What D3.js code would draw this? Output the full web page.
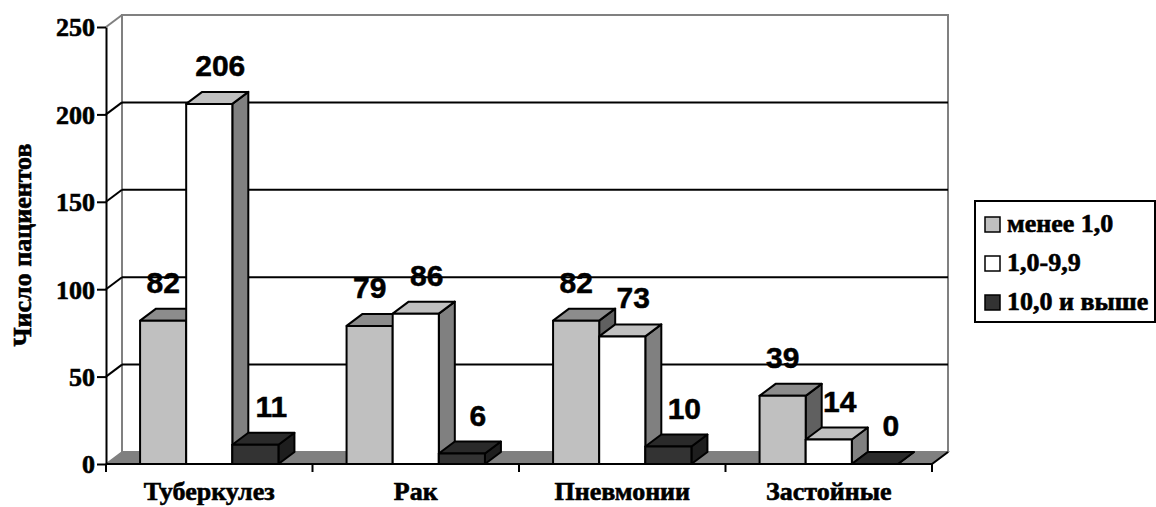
<!DOCTYPE html>
<html><head><meta charset="utf-8">
<script src="https://cdn.jsdelivr.net/npm/d3@7"></script>
<style>body{margin:0;background:#fff;} svg{display:block}</style>
</head><body>
<script>
// ---- data ----
const categories = ["Туберкулез", "Рак", "Пневмонии", "Застойные"];
const seriesNames = ["менее 1,0", "1,0-9,9", "10,0 и выше"];
const seriesLess1 = [82, 79, 82, 39];
const series1to9 = [206, 86, 73, 14];
const series10up = [11, 6, 10, 0];
const yTicks = [0, 50, 100, 150, 200, 250];
const yTitle = "Число пациентов";

const seriesValues = [seriesLess1, series1to9, series10up];

// ---- layout ----
const W = 1156, H = 507;
const L = 106, R = 932, B = 464, T = 27, DX = 16, DY = -12;
const serif = "'Liberation Serif','Times New Roman',serif";
const sans = "'Liberation Sans',Arial,sans-serif";

const svg = d3.select("body").append("svg").attr("width", W).attr("height", H);

const y = d3.scaleLinear().domain([0, 250]).range([B, T]);
const x0 = d3.scaleBand().domain(categories).range([L, R]);
const bw = x0.bandwidth();
const x1 = d3.scaleBand().domain(seriesNames).range([bw * 0.165, bw * 0.835]);

const fills = [
  {front: "#c0c0c0", top: "#8c8c8c", side: "#606060"},
  {front: "#ffffff", top: "#c0c0c0", side: "#808080"},
  {front: "#333333", top: "#2a2a2a", side: "#1e1e1e"}
];

function boldText(g, x, yy, txt, opts) {
  return g.append("text")
    .attr("transform", `translate(${x},${yy})` + (opts.rot ? ` rotate(${opts.rot})` : ""))
    .attr("text-anchor", opts.anchor || "start")
    .attr("font-family", opts.family || serif)
    .attr("font-weight", "bold")
    .attr("font-size", opts.size)
    .attr("fill", "#000")
    .attr("stroke", "#000").attr("stroke-width", opts.sw || 0.6)
    .text(txt);
}

// back wall
svg.append("rect").attr("x", L + DX).attr("y", T + DY).attr("width", R - L).attr("height", B - T)
  .attr("fill", "#fff").attr("stroke", "#808080").attr("stroke-width", 2);
// top-left wall edge
svg.append("line").attr("x1", L).attr("y1", T).attr("x2", L + DX).attr("y2", T + DY)
  .attr("stroke", "#808080").attr("stroke-width", 2);

// gridlines
const grid = yTicks.filter(v => v > 0 && v < 250);
svg.append("g").selectAll("line.g").data(grid).join("line")
  .attr("x1", L + DX).attr("x2", R + DX)
  .attr("y1", d => y(d) + DY).attr("y2", d => y(d) + DY)
  .attr("stroke", "#000").attr("stroke-width", 2);
svg.append("g").selectAll("line.d").data(grid).join("line")
  .attr("x1", L).attr("x2", L + DX)
  .attr("y1", d => y(d)).attr("y2", d => y(d) + DY)
  .attr("stroke", "#000").attr("stroke-width", 2);

// floor
svg.append("polygon")
  .attr("points", [[L, B], [R, B], [R + DX, B + DY], [L + DX, B + DY]].map(p => p.join(",")).join(" "))
  .attr("fill", "#808080").attr("stroke", "#808080").attr("stroke-width", 1.5);
svg.append("line").attr("x1", R).attr("y1", B).attr("x2", R + DX).attr("y2", B + DY)
  .attr("stroke", "#000").attr("stroke-width", 2);

// bars
const barsG = svg.append("g");
categories.forEach((cat, ci) => {
  seriesNames.forEach((s, si) => {
    const v = seriesValues[si][ci];
    const x = x0(cat) + x1(s), w = x1.bandwidth(), yt = y(v);
    const f = fills[si];
    const g = barsG.append("g").attr("stroke", "#000").attr("stroke-width", 2).attr("stroke-linejoin", "round");
    g.append("polygon").attr("fill", f.side)
      .attr("points", [[x + w, yt], [x + w + DX, yt + DY], [x + w + DX, B + DY], [x + w, B]].map(p => p.join(",")).join(" "));
    g.append("polygon").attr("fill", f.top)
      .attr("points", [[x, yt], [x + w, yt], [x + w + DX, yt + DY], [x + DX, yt + DY]].map(p => p.join(",")).join(" "));
    if (v > 0) g.append("rect").attr("fill", f.front).attr("x", x).attr("y", yt).attr("width", w).attr("height", B - yt);
  });
});

// y axis
const yAxis = svg.append("g").attr("transform", `translate(${L},0)`)
  .call(d3.axisLeft(y).tickValues(yTicks).tickSize(9).tickSizeOuter(0).tickFormat(d3.format("d")));
yAxis.select(".domain").attr("stroke", "#000").attr("stroke-width", 2);
yAxis.selectAll(".tick line").attr("stroke", "#000").attr("stroke-width", 2);
yAxis.selectAll(".tick text")
  .attr("x", -11).attr("dy", "0.34em")
  .attr("font-family", serif).attr("font-weight", "bold").attr("font-size", 26).attr("fill", "#000")
  .attr("stroke", "#000").attr("stroke-width", 0.6)
  .attr("text-anchor", "end");

// x axis
svg.append("line").attr("x1", L).attr("x2", R).attr("y1", B).attr("y2", B).attr("stroke", "#000").attr("stroke-width", 2);
const bounds = categories.map(c => x0(c)).concat([R]);
svg.append("g").selectAll("line").data(bounds).join("line")
  .attr("x1", d => d).attr("x2", d => d).attr("y1", B).attr("y2", B + 8)
  .attr("stroke", "#000").attr("stroke-width", 2);
const catG = svg.append("g");
categories.forEach(c => boldText(catG, x0(c) + bw / 2, 500, c, {size: 26, anchor: "middle"}));

// y title
boldText(svg, 31, 245, yTitle, {size: 26, anchor: "middle", rot: -90});

// data labels
const seriesShift = [0, 11, 16];
const labG = svg.append("g");
categories.forEach((cat, ci) => {
  seriesNames.forEach((s, si) => {
    const v = seriesValues[si][ci];
    const cx = x0(cat) + x1(s) + x1.bandwidth() / 2 + seriesShift[si];
    boldText(labG, cx, y(v) - 28, String(v), {size: 30, anchor: "middle", family: sans, sw: 0.5});
  });
});

// legend
const lg = svg.append("g");
lg.append("rect").attr("x", 975).attr("y", 201).attr("width", 180).attr("height", 121)
  .attr("fill", "#fff").attr("stroke", "#000").attr("stroke-width", 2);
seriesNames.forEach((s, i) => {
  const by = 232 + i * 39;
  lg.append("rect").attr("x", 985).attr("y", by - 15).attr("width", 15).attr("height", 15)
    .attr("fill", fills[i].front).attr("stroke", "#000").attr("stroke-width", 1.5);
  boldText(lg, 1007, by, s, {size: 26});
});
</script>
</body></html>
